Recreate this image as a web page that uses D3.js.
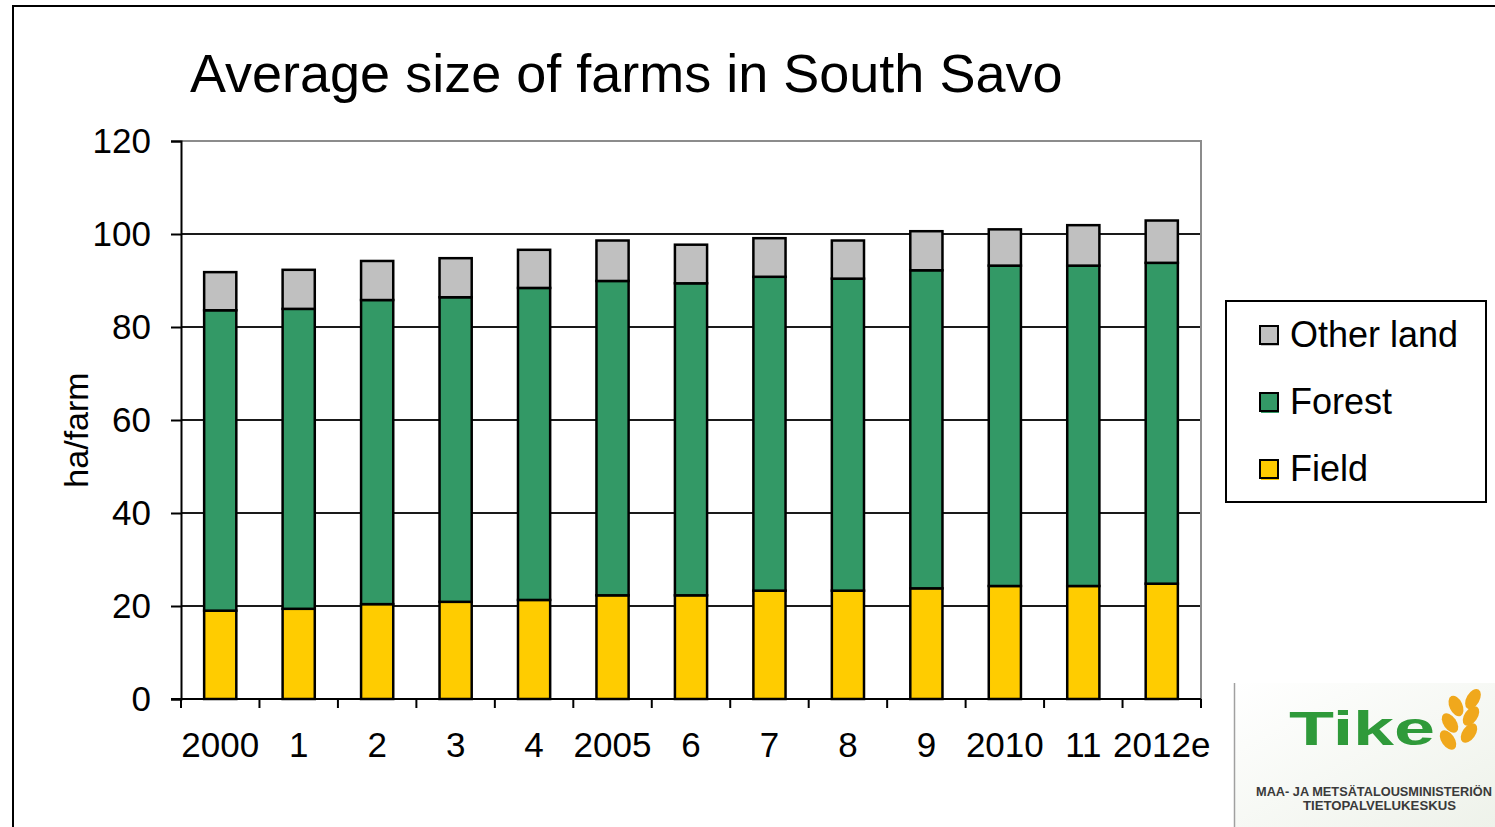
<!DOCTYPE html>
<html>
<head>
<meta charset="utf-8">
<script src="https://cdn.jsdelivr.net/npm/d3@7"></script>
<style>
  body { margin: 0; background: #fff; }
  text { font-family: "Liberation Sans", Arial, sans-serif; fill: #000; }
</style>
</head>
<body>
<script>
// Chart data (ha/farm)
var years = ["2000", "1", "2", "3", "4", "2005", "6", "7", "8", "9", "2010", "11", "2012e"];
var field = [19.0, 19.4, 20.4, 20.9, 21.3, 22.3, 22.3, 23.3, 23.3, 23.8, 24.3, 24.3, 24.8];
var forest = [64.6, 64.5, 65.4, 65.5, 67.1, 67.6, 67.1, 67.5, 67.1, 68.4, 68.9, 68.9, 69.0];
var otherLand = [8.2, 8.4, 8.4, 8.4, 8.2, 8.7, 8.3, 8.3, 8.2, 8.4, 7.8, 8.7, 9.1];
var yTicks = [0, 20, 40, 60, 80, 100, 120];

var seriesKeys = ["field", "forest", "other"];
var seriesNames = { field: "Field", forest: "Forest", other: "Other land" };
var colors = { field: "#ffcc00", forest: "#339966", other: "#c0c0c0" };

var svgWidth = 1495;
var svgHeight = 827;

var plot = { left: 181, right: 1201, top: 141, bottom: 699 };

var svg = d3.select("body")
  .append("svg")
  .attr("width", svgWidth)
  .attr("height", svgHeight);

// outer slide frame
svg.append("rect")
  .attr("x", 13).attr("y", 6)
  .attr("width", svgWidth + 20).attr("height", svgHeight + 20)
  .attr("fill", "none")
  .attr("stroke", "#000")
  .attr("stroke-width", 2);

// build rows for the stack
var rows = years.map(function(y, i) {
  return { year: y, field: field[i], forest: forest[i], other: otherLand[i] };
});

var stacked = d3.stack().keys(seriesKeys)(rows);

var x = d3.scaleBand()
  .domain(years)
  .range([plot.left, plot.right])
  .paddingInner(0.59)
  .paddingOuter(0.295);

var y = d3.scaleLinear()
  .domain([0, 120])
  .range([plot.bottom, plot.top]);

// title
svg.append("text")
  .attr("x", 190)
  .attr("y", 92)
  .style("font-size", "54px")
  .text("Average size of farms in South Savo");

// gridlines
svg.append("g")
  .selectAll("line")
  .data(yTicks.filter(function(d) { return d > 0 && d < 120; }))
  .enter()
  .append("line")
  .attr("x1", plot.left)
  .attr("x2", plot.right)
  .attr("y1", function(d) { return y(d); })
  .attr("y2", function(d) { return y(d); })
  .attr("stroke", "#1a1a1a")
  .attr("stroke-width", 2);

// plot border top and right (grey)
svg.append("path")
  .attr("d", "M" + plot.left + "," + y(120) + "H" + plot.right + "V" + y(0))
  .attr("fill", "none")
  .attr("stroke", "#8c8c8c")
  .attr("stroke-width", 2);

// bars
var layers = svg.append("g")
  .selectAll("g")
  .data(stacked)
  .enter()
  .append("g")
  .attr("fill", function(d) { return colors[d.key]; });

layers.selectAll("rect")
  .data(function(d) { return d; })
  .enter()
  .append("rect")
  .attr("x", function(d) { return x(d.data.year); })
  .attr("y", function(d) { return y(d[1]); })
  .attr("width", x.bandwidth())
  .attr("height", function(d) { return y(d[0]) - y(d[1]); })
  .attr("stroke", "#000")
  .attr("stroke-width", 2.5);

// y axis
var leftAxis = d3.axisLeft(y)
  .tickValues(yTicks)
  .tickSize(10)
  .tickPadding(20)
  .tickFormat(d3.format("d"));

var yAxisG = svg.append("g")
  .attr("transform", "translate(" + plot.left + ",0)")
  .call(leftAxis);
yAxisG.select(".domain").attr("stroke", "#000").attr("stroke-width", 2);
yAxisG.selectAll(".tick line").attr("stroke", "#000").attr("stroke-width", 2);
yAxisG.selectAll(".tick text")
  .style("font-size", "35px")
  .style("font-family", "Liberation Sans, Arial, sans-serif")
  .attr("fill", "#000");

// x axis: ticks at category boundaries
var xAxisG = svg.append("g")
  .attr("transform", "translate(0," + plot.bottom + ")");

xAxisG.append("line")
  .attr("x1", plot.left - 10)
  .attr("x2", plot.right)
  .attr("stroke", "#000")
  .attr("stroke-width", 2);

var step = x.step();
var boundaries = years.map(function(d) { return x(d) - x.paddingInner() * step / 2; });
boundaries.push(plot.right);

xAxisG.selectAll("line.xtick")
  .data(boundaries)
  .enter()
  .append("line")
  .attr("class", "xtick")
  .attr("x1", function(d) { return d; })
  .attr("x2", function(d) { return d; })
  .attr("y1", 0)
  .attr("y2", 9)
  .attr("stroke", "#000")
  .attr("stroke-width", 2);

xAxisG.selectAll("text")
  .data(years)
  .enter()
  .append("text")
  .attr("x", function(d) { return x(d) + x.bandwidth() / 2; })
  .attr("y", 58)
  .attr("text-anchor", "middle")
  .style("font-size", "35px")
  .text(function(d) { return d; });

// y axis title
svg.append("text")
  .attr("transform", "translate(88,430) rotate(-90)")
  .attr("text-anchor", "middle")
  .style("font-size", "34px")
  .text("ha/farm");

// legend
var legend = svg.append("g");
legend.append("rect")
  .attr("x", 1226).attr("y", 301)
  .attr("width", 260).attr("height", 201)
  .attr("fill", "#fff")
  .attr("stroke", "#000")
  .attr("stroke-width", 2);

var legendOrder = ["other", "forest", "field"];
var legendItems = legend.selectAll("g.item")
  .data(legendOrder)
  .enter()
  .append("g")
  .attr("class", "item")
  .attr("transform", function(d, i) { return "translate(1260," + (326 + i * 67) + ")"; });

legendItems.append("rect")
  .attr("x", 1).attr("y", 2)
  .attr("width", 18).attr("height", 18)
  .attr("fill", function(d) { return colors[d]; });

legendItems.append("rect")
  .attr("width", 18).attr("height", 18)
  .attr("fill", function(d) { return colors[d]; })
  .attr("stroke", "#000")
  .attr("stroke-width", 2);

legendItems.append("text")
  .attr("x", 30)
  .attr("y", 21)
  .style("font-size", "36px")
  .text(function(d) { return seriesNames[d]; });

// Tike logo
var defs = svg.append("defs");
var grad = defs.append("linearGradient")
  .attr("id", "logoBg")
  .attr("x1", "0").attr("y1", "0").attr("x2", "1").attr("y2", "1");
grad.append("stop").attr("offset", "0%").attr("stop-color", "#ffffff");
grad.append("stop").attr("offset", "100%").attr("stop-color", "#eef2ea");

var logo = svg.append("g");
logo.append("rect")
  .attr("x", 1234).attr("y", 683)
  .attr("width", 261).attr("height", 144)
  .attr("fill", "url(#logoBg)");
logo.append("line")
  .attr("x1", 1234.5).attr("x2", 1234.5)
  .attr("y1", 683).attr("y2", 827)
  .attr("stroke", "#a0a0a0")
  .attr("stroke-width", 1.5);

logo.append("text")
  .attr("x", 1289)
  .attr("y", 745)
  .attr("textLength", 146)
  .attr("lengthAdjust", "spacingAndGlyphs")
  .style("font-size", "48px")
  .style("font-weight", "bold")
  .style("fill", "#2f9a3a")
  .text("Tike");

// wheat ears
var grains = [
  [1448, 740, -35], [1469, 733, 35], [1450, 723, -35], [1471, 716, 35],
  [1456, 706, -25], [1473, 699, 30]
];
logo.selectAll("ellipse")
  .data(grains)
  .enter()
  .append("ellipse")
  .attr("cx", function(d) { return d[0]; })
  .attr("cy", function(d) { return d[1]; })
  .attr("rx", 6.5)
  .attr("ry", 11)
  .attr("transform", function(d) { return "rotate(" + d[2] + "," + d[0] + "," + d[1] + ")"; })
  .attr("fill", "#f0a81c");

logo.append("text")
  .attr("x", 1256)
  .attr("y", 796)
  .attr("textLength", 236)
  .attr("lengthAdjust", "spacingAndGlyphs")
  .style("font-size", "13px")
  .style("font-weight", "bold")
  .style("fill", "#3a3a3a")
  .text("MAA- JA METSÄTALOUSMINISTERIÖN");

logo.append("text")
  .attr("x", 1303)
  .attr("y", 810)
  .attr("textLength", 153)
  .attr("lengthAdjust", "spacingAndGlyphs")
  .style("font-size", "13px")
  .style("font-weight", "bold")
  .style("fill", "#3a3a3a")
  .text("TIETOPALVELUKESKUS");
</script>
</body>
</html>
